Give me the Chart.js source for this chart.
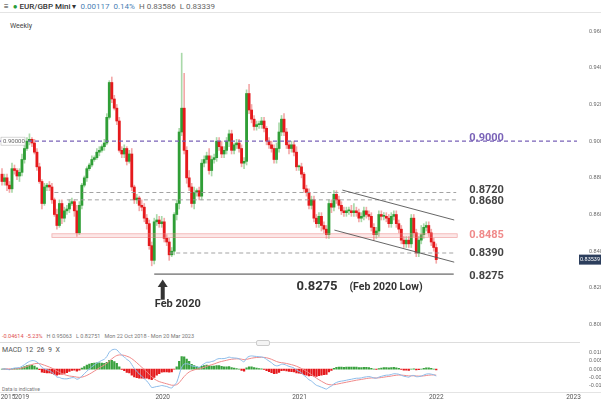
<!DOCTYPE html>
<html><head><meta charset="utf-8">
<script src="https://cdn.jsdelivr.net/npm/chart.js@4"></script>
<style>
body{margin:0;background:#fff;font-family:Roboto,"Noto Sans",sans-serif;width:601px;height:401px;overflow:hidden;position:relative}
#c1{position:absolute;left:0;top:0}
#c2{position:absolute;left:0;top:340px}
.t{position:absolute;white-space:nowrap;font-size:7px;color:#555}
</style></head><body>
<div class="t" style="left:4px;top:2px;font-size:8px;color:#333">≡ &nbsp;<span style="color:#2a9d3a">●</span> <b style="font-weight:500">EUR/GBP Mini</b> ▾ &nbsp;<span style="color:#4a7fb5">0.00117 &nbsp;0.14%</span> &nbsp;<span style="color:#666">H 0.83586 &nbsp;L 0.83339</span></div>
<div style="position:absolute;left:0;top:12px;width:601px;border-top:1px solid #e4e4e4"></div>
<div class="t" style="left:10px;top:22px;color:#444">Weekly</div>
<div class="t" style="left:2px;top:333px;font-size:5.5px;color:#777"><span style="color:#e05050">-0.04614 &nbsp;-5.23%</span> &nbsp;&nbsp;H 0.95063 &nbsp;&nbsp;L 0.82751 &nbsp;&nbsp;Mon 22 Oct 2018 - Mon 20 Mar 2023</div>
<div style="position:absolute;left:0;top:342px;width:580px;border-top:1px solid #ddd"></div>
<div style="position:absolute;left:256px;top:340px;width:12px;height:4px;border:1px solid #ccc;background:#f4f4f4;border-radius:2px"></div>
<div class="t" style="left:2px;top:346px;color:#555">MACD &nbsp;12 &nbsp;26 &nbsp;9 &nbsp;X</div>
<div class="t" style="left:2px;top:386px;font-size:5px;color:#777">Data is indicative</div>
<canvas id="c1" width="601" height="340"></canvas>
<canvas id="c2" width="601" height="61"></canvas>
<script>
const closesA=[0.878,0.880,0.876,0.874,0.885,0.884,0.881,0.883,0.890,0.896,
0.900,0.901,0.899,0.894,0.886,0.878,0.866,0.875,0.876,0.875,
0.868,0.860,0.854,0.866,0.858,0.862,0.863,0.866,0.867,0.862,
0.850,0.865,0.876,0.880,0.885,0.887,0.890,0.891,0.894,0.895,
0.897,0.899,0.913,0.932,0.923,0.918,0.911,0.895,0.893,0.896,
0.889,0.893,0.875,0.868,0.869,0.865,0.864,0.858,0.855,0.843,
0.835,0.856,0.857,0.855,0.856,0.847,0.845,0.838,0.840,0.860,
0.866,0.905,0.918];
const closesB=[0.895,0.880,0.875,0.866,0.872,0.873,0.870,0.888,0.890,0.892,
0.884,0.890,0.891,0.900,0.897,0.893,0.895,0.900,0.904,0.895,
0.898,0.899,0.896,0.888,0.889,0.926,0.917,0.912,0.908,0.909,
0.909,0.911,0.907,0.900,0.898,0.896,0.890,0.896,0.905,0.912,
0.905,0.898,0.896,0.898,0.894,0.886,0.886,0.882,0.874,0.872,
0.865,0.868,0.858,0.855,0.859,0.854,0.852,0.849,0.866,0.864,
0.871,0.868,0.865,0.862,0.861,0.862,0.862,0.861,0.862,0.861,0.858];
const closesC=[0.859,0.862,0.860,0.859,0.853,0.849,0.851,0.860,0.859,0.859,
0.858,0.855,0.859,0.860,0.855,0.852,0.846,0.844,0.846,0.844,
0.858,0.850,0.839,0.846,0.849,0.853,0.854,0.850,0.845,0.842,0.8354];
const firstOpen=0.882;
const wickUp="3222321232231222121221322222213211112122122132222212312132222232322221222"+
"5242312222422223222212222253222221222352322223121222222222222222222342222"+
"2222222222222222222222522222221";
const wickDn="2232222322122121312221213222132121211112121121212221222322323222222312332"+
"2322322222232222223222223222222222222222223222222222222322232222222222222"+
"2223232222222222222222222222221";
const highOverride={72:0.948,73:0.937};
const yearTicks=[{v:0.9,l:"2015"},{v:8,l:"2019"},{v:64.4,l:"2020"},{v:119.2,l:"2021"},{v:174,l:"2022"},{v:229,l:"2023"}];
const priceTicks=[0.80,0.82,0.84,0.86,0.88,0.90,0.92,0.94,0.96];
const macdTicks=[0.01,0.005,0,-0.005,-0.01];
const levels={purple:0.90,l8720:0.8720,l8680:0.8680,band:[0.8475,0.8495],l8390:0.8390,low:0.8275};
const lastPrice=0.83539;

const closes=closesA.concat(closesB,closesC);
const N=closes.length;
const o=[],h=[],l=[],c=closes;
for(let i=0;i<N;i++){
  const op=i?closes[i-1]:firstOpen; o.push(op);
  const u=+(wickUp[i]||2)*0.001, d=+(wickDn[i]||2)*0.001;
  h.push(highOverride[i]!==undefined?highOverride[i]:Math.max(op,c[i])+u);
  l.push(Math.min(op,c[i])-d);
}
const up=c.map((v,i)=>v>=o[i]);
const G='#2f9e36',R='#e5191c',GW='#a9d9a9',RW='#f3a9a9';
const XMIN=-0.8,XMAX=230.4;

const ann={id:'ann',afterDatasetsDraw(ch){
  const ctx=ch.ctx,x=ch.scales.x,y=ch.scales.y,a=ch.chartArea;
  const X=v=>x.getPixelForValue(v),Y=v=>y.getPixelForValue(v);
  ctx.save();
  ctx.fillStyle='rgba(245,160,160,0.25)';ctx.strokeStyle='rgba(235,130,130,0.6)';ctx.lineWidth=0.8;
  const b1=Y(levels.band[1]),b0=Y(levels.band[0]);
  ctx.fillRect(X(20),b1,X(182.4)-X(20),b0-b1);ctx.strokeRect(X(20),b1,X(182.4)-X(20),b0-b1);
  const hline=(v,x0,x1,col,dash,w)=>{ctx.beginPath();ctx.setLineDash(dash);ctx.strokeStyle=col;ctx.lineWidth=w;ctx.moveTo(X(x0),Y(v));ctx.lineTo(X(x1),Y(v));ctx.stroke();};
  hline(levels.purple,XMIN,XMAX,'#7a63b8',[4,3],1.3);
  hline(levels.l8720,21,182,'#999',[4,3],0.9);
  hline(levels.l8680,26,182,'#999',[4,3],0.9);
  hline(levels.l8390,67,181,'#999',[4,3],0.9);
  hline(levels.low,61,181,'#444',[],1);
  ctx.setLineDash([]);ctx.strokeStyle='#555';ctx.lineWidth=0.9;
  ctx.beginPath();ctx.moveTo(X(136.4),Y(0.8733));ctx.lineTo(X(181.2),Y(0.857));ctx.stroke();
  ctx.beginPath();ctx.moveTo(X(133.2),Y(0.8515));ctx.lineTo(X(181.2),Y(0.834));ctx.stroke();
  const ax=X(64.4);ctx.fillStyle='#333';
  ctx.fillRect(ax-2,Y(0.8205),4,Y(0.8135)-Y(0.8205));
  ctx.beginPath();ctx.moveTo(ax-5,Y(0.8205));ctx.lineTo(ax+5,Y(0.8205));ctx.lineTo(ax,Y(0.8245));ctx.fill();
  ctx.textBaseline='middle';ctx.textAlign='left';
  ctx.font='bold 11px Roboto';ctx.fillStyle='#444';
  ctx.fillText('0.8720',X(187.2),Y(0.8720)-2);
  ctx.fillText('0.8680',X(187.2),Y(0.8680)+1);
  ctx.fillText('0.8390',X(187.2),Y(0.8390));
  ctx.fillText('0.8275',X(187.2),Y(0.8262));
  ctx.fillStyle='#f08a8a';ctx.fillText('0.8485',X(187.2),Y(0.8485));
  ctx.fillStyle='#7a63b8';ctx.fillText('0.9000',X(187.2),Y(0.9015));
  ctx.fillStyle='#333';ctx.font='bold 13px Roboto';ctx.fillText('0.8275',X(118),Y(0.8205));
  ctx.font='bold 10.5px Roboto';ctx.fillText('(Feb 2020 Low)',X(139.2),Y(0.8205));
  ctx.font='bold 11px Roboto';ctx.fillText('Feb 2020',X(61.2),Y(0.8110));
  ctx.font='6px Roboto';ctx.fillStyle='#fff';ctx.strokeStyle='#bbb';ctx.lineWidth=0.6;
  ctx.fillRect(1,Y(0.9)-4,24,8);ctx.strokeRect(1,Y(0.9)-4,24,8);
  ctx.fillStyle='#666';ctx.fillText('0.90000',3,Y(0.9));
  ctx.fillStyle='#2c3e5c';ctx.fillRect(a.right+2,Y(lastPrice)-5,22,10);
  ctx.fillStyle='#fff';ctx.font='5.5px Roboto';ctx.fillText(lastPrice.toFixed(5),a.right+3,Y(lastPrice));
  ctx.restore();
}};

new Chart(document.getElementById('c1'),{type:'bar',
 data:{datasets:[
  {data:c.map((v,i)=>({x:i,y:[l[i],h[i]]})),backgroundColor:up.map(u=>u?GW:RW),barThickness:1,grouped:false,order:2},
  {data:c.map((v,i)=>({x:i,y:[o[i],v]})),backgroundColor:up.map(u=>u?G:R),barThickness:2.2,minBarLength:1,grouped:false,order:1}
 ]},
 options:{responsive:false,animation:false,events:[],
  layout:{padding:{top:22,bottom:10,left:0,right:0}},
  plugins:{legend:{display:false},tooltip:{enabled:false}},
  scales:{
   x:{type:'linear',min:XMIN,max:XMAX,display:false,offset:false},
   y:{position:'right',min:0.797,max:0.965,border:{display:false},grid:{display:false},
      afterFit(s){s.width=24;},
      afterBuildTicks(s){s.ticks=priceTicks.map(v=>({value:v}));},
      ticks:{font:{size:5.5},color:'#666',padding:4,callback:v=>v.toFixed(5)}}
  }},plugins:[ann]});

const ema=(arr,n)=>{const k=2/(n+1);const r=[];arr.forEach((v,i)=>r.push(i?v*k+r[i-1]*(1-k):v));return r;};
const e12=ema(c,12),e26=ema(c,26);
const macd=e12.map((v,i)=>v-e26[i]);
const sig=ema(macd,9);
const hist=macd.map((v,i)=>v-sig[i]);

const years={id:'years',afterDraw(ch){
  const ctx=ch.ctx,x=ch.scales.x;ctx.save();
  ctx.font='6.5px Roboto';ctx.fillStyle='#555';ctx.textAlign='center';ctx.textBaseline='middle';
  yearTicks.forEach(t=>ctx.fillText(t.l,Math.max(8,x.getPixelForValue(t.v)),57));
  ctx.strokeStyle='#e4e4e4';ctx.lineWidth=1;ctx.beginPath();ctx.moveTo(0,52.5);ctx.lineTo(601,52.5);ctx.stroke();
  ctx.restore();}};

new Chart(document.getElementById('c2'),{type:'bar',
 data:{datasets:[
  {type:'line',data:macd.map((v,i)=>({x:i,y:v})),borderColor:'#8cbcea',borderWidth:1,pointRadius:0,tension:0.3,order:1},
  {type:'line',data:sig.map((v,i)=>({x:i,y:v})),borderColor:'#f08a8a',borderWidth:1,pointRadius:0,tension:0.3,order:1},
  {data:hist.map((v,i)=>({x:i,y:v})),backgroundColor:hist.map(v=>v>=0?'#3aa23f':'#e5191c'),barThickness:1.6,order:2}
 ]},
 options:{responsive:false,animation:false,events:[],
  layout:{padding:{top:3,bottom:9}},
  plugins:{legend:{display:false},tooltip:{enabled:false}},
  scales:{
   x:{type:'linear',min:XMIN,max:XMAX,display:false,offset:false},
   y:{position:'right',min:-0.0139,max:0.0133,border:{display:false},grid:{display:false},
      afterFit(s){s.width=24;},
      afterBuildTicks(s){s.ticks=macdTicks.map(v=>({value:v}));},
      ticks:{font:{size:5.5},color:'#666',padding:4,callback:v=>v.toFixed(5)}}
  }},plugins:[years]});
</script></body></html>
